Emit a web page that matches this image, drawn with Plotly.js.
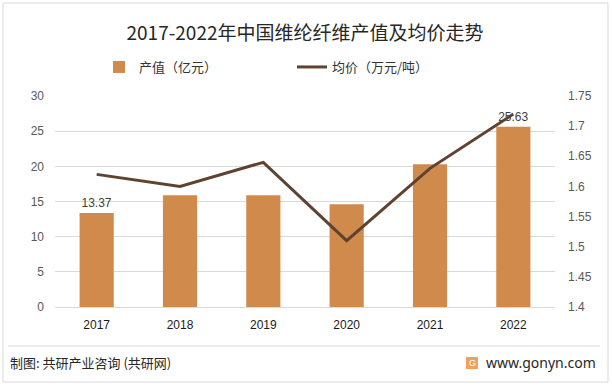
<!DOCTYPE html>
<html>
<head>
<meta charset="utf-8">
<script src="https://cdn.plot.ly/plotly-3.0.1.min.js"></script>
<style>
html,body{margin:0;padding:0;background:#fff;}
#chart{width:612px;height:386px;}
</style>
</head>
<body>
<div id="chart"></div>
<script>
const years = ['2017','2018','2019','2020','2021','2022'];
const outputValue = [13.37, 15.9, 15.9, 14.6, 20.3, 25.63];
const avgPrice = [1.62, 1.60, 1.64, 1.51, 1.63, 1.72];
const outputLabels = ['13.37','','','','','25.63'];
const barName = '产值（亿元）';
const lineName = '均价（万元/吨）';
const titleText = '2017-2022年中国维纶纤维产值及均价走势';
const sourceText = '制图: 共研产业咨询 (共研网)';
const siteText = 'www.gonyn.com';

const cjk = '"Noto Sans CJK SC", "Noto Sans", sans-serif';
const num = '"Liberation Sans", "Noto Sans", sans-serif';

const L = 55, R = 57, T = 96, B = 79;
const W = 612, H = 386;
const pw = W - L - R, ph = H - T - B;
const px = x => (x - L) / pw;
const py = y => (H - B - y) / ph;

const traces = [
  {
    type: 'bar', name: barName, x: years, y: outputValue,
    marker: {color: '#D08A4C'}, width: 0.41,
    text: outputLabels, textposition: 'outside', cliponaxis: false,
    textfont: {family: num, size: 12, color: '#404040'},
    hoverinfo: 'x+y'
  },
  {
    type: 'scatter', mode: 'lines', name: lineName, x: years, y: avgPrice,
    yaxis: 'y2', line: {color: '#5E4330', width: 3}
  }
];

const layout = {
  width: W, height: H,
  margin: {l: L, r: R, t: T, b: B},
  paper_bgcolor: '#fff', plot_bgcolor: '#fff',
  showlegend: true,
  title: {text: titleText, x: 0.5, xref: 'paper', xanchor: 'center', y: 1 - 33/H, yref: 'container', yanchor: 'middle',
          font: {family: cjk, size: 19, color: '#262626'}},
  legend: {orientation: 'h', x: px(99), y: py(67), xanchor: 'left', yanchor: 'middle',
           font: {family: cjk, size: 13, color: '#333'}, entrywidth: 148, entrywidthmode: 'pixels',
           traceorder: 'normal', itemwidth: 30, bgcolor: 'rgba(0,0,0,0)'},
  bargap: 0.59,
  xaxis: {type: 'category', showgrid: false, showline: false, ticks: '', zeroline: false,
          tickfont: {family: num, size: 12, color: '#1a1a1a'}, ticklabelstandoff: 9},
  yaxis: {range: [0, 30], dtick: 5, tick0: 0, showgrid: true, gridcolor: '#D9D9D9', gridwidth: 1,
          zeroline: true, zerolinecolor: '#D9D9D9', zerolinewidth: 1, showline: false, ticks: '',
          tickfont: {family: num, size: 12, color: '#595959'}, ticklabelstandoff: 10},
  yaxis2: {range: [1.4, 1.75], dtick: 0.05, tick0: 1.4, overlaying: 'y', side: 'right',
           showgrid: false, zeroline: false, showline: false, ticks: '',
           tickfont: {family: num, size: 12, color: '#595959'}, ticklabelstandoff: 12},
  shapes: [
    {type: 'rect', xref: 'paper', yref: 'paper', x0: px(3), x1: px(608), y0: py(382), y1: py(3),
     line: {color: '#D9D9D9', width: 1}, fillcolor: 'rgba(0,0,0,0)', layer: 'below'},
    {type: 'line', xref: 'paper', yref: 'paper', x0: px(8), x1: px(600), y0: py(346), y1: py(346),
     line: {color: '#D9D9D9', width: 1}},
    {type: 'rect', xref: 'paper', yref: 'paper', x0: px(466), x1: px(478), y0: py(369), y1: py(357),
     line: {width: 0}, fillcolor: '#F2A05A'}
  ],
  annotations: [
    {text: sourceText, xref: 'paper', yref: 'paper', x: px(8), y: py(362), xanchor: 'left', yanchor: 'middle',
     showarrow: false, font: {family: cjk, size: 13, color: '#262626'}},
    {text: siteText, xref: 'paper', yref: 'paper', x: px(598), y: py(362), xanchor: 'right', yanchor: 'middle',
     showarrow: false, font: {family: '"Noto Sans", sans-serif', size: 14, color: '#262626'}},
    {text: 'G', xref: 'paper', yref: 'paper', x: px(472), y: py(363), xanchor: 'center', yanchor: 'middle',
     showarrow: false, font: {family: num, size: 9, color: '#fff'}}
  ]
};

Plotly.newPlot('chart', traces, layout, {displayModeBar: false, staticPlot: true});
</script>
</body>
</html>
